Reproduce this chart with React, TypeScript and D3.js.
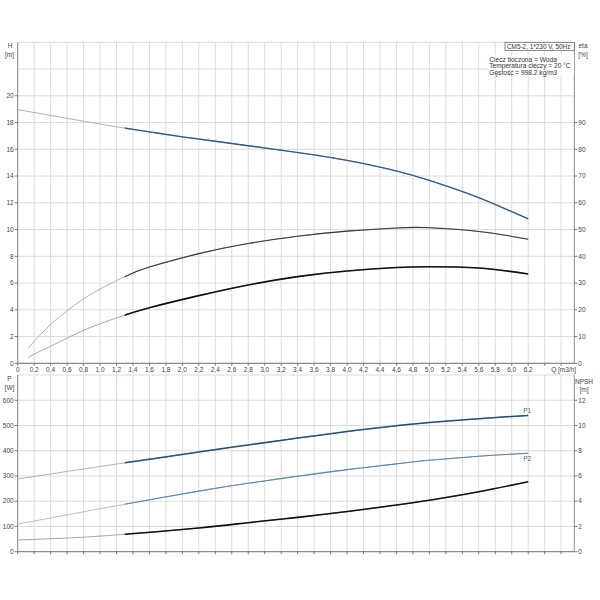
import { useEffect, useRef } from "react";
import * as d3 from "d3";

// Q [m3/h] sample points
const qH = [0, 0.4, 0.8, 1.2, 1.6, 2.0, 2.4, 2.8, 3.2, 3.6, 4.0, 4.4, 4.8, 5.2, 5.6, 6.2];
const headH = [18.97, 18.53, 18.1, 17.68, 17.3, 16.93, 16.6, 16.27, 15.93, 15.58, 15.17, 14.67, 14.05, 13.27, 12.38, 10.8];

const qEta = [0.13, 0.2, 0.4, 0.6, 0.9, 1.3, 1.6, 2.2, 2.8, 3.4, 4.0, 4.6, 5.0, 5.6, 6.2];
const etaPump = [5.6, 8.2, 14.5, 19.6, 26.0, 32.4, 36.0, 41.0, 44.8, 47.5, 49.4, 50.6, 50.7, 49.3, 46.4];
const etaTotal = [2.2, 3.4, 6.4, 9.4, 13.6, 18.0, 20.8, 25.3, 29.3, 32.4, 34.5, 35.8, 36.1, 35.6, 33.4];

const qP = [0, 0.6, 1.3, 2.2, 2.8, 3.4, 4.0, 4.6, 5.0, 5.6, 6.2];
const powerP1 = [288, 318, 352, 395, 423, 450, 476, 499, 512, 527, 540];
const powerP2 = [109, 146, 188, 240, 271, 299, 325, 348, 362, 378, 390];
const npsh = [0.93, 1.08, 1.38, 1.88, 2.3, 2.72, 3.18, 3.7, 4.08, 4.75, 5.55];

const hTicks = [0, 2, 4, 6, 8, 10, 12, 14, 16, 18, 20];
const etaTicks = [0, 10, 20, 30, 40, 50, 60, 70, 80, 90];
const pTicks = [0, 100, 200, 300, 400, 500, 600];
const npshTicks = [0, 2, 4, 6, 8, 10, 12];

const infoLines = ["Ciecz tłoczona = Woda", "Temperatura cieczy = 20 °C", "Gęstość = 998.2 kg/m3"];

export default function App() {
    const svgRef = useRef<SVGSVGElement>(null);

    useEffect(() => {
        if (!svgRef.current) return;
        const svg = d3.select(svgRef.current);
        svg.selectAll("*").remove();

        const font = "'Liberation Sans', Arial, sans-serif";
        const textColor = "#444";
        const gridColor = "#dcdcdc";
        const axisColor = "#8c8c8c";

        const x = d3.scaleLinear().domain([0, 6.76]).range([17.7, 574.3]);
        const yH = d3.scaleLinear().domain([0, 24]).range([363.3, 42.3]);
        const yEta = d3.scaleLinear().domain([0, 120]).range([363.3, 42.3]);
        const yP = d3.scaleLinear().domain([0, 700]).range([551.7, 375]);
        const yN = d3.scaleLinear().domain([0, 14]).range([551.7, 375]);

        const qGrid = d3.range(0, 34).map((i) => i * 0.2);

        const drawPanel = (yScale: d3.ScaleLinear<number, number>, gridVals: number[]) => {
            const [y0, y1] = yScale.range();
            const g = svg.append("g");
            g.selectAll("line.v")
                .data(qGrid)
                .join("line")
                .attr("x1", (d) => x(d))
                .attr("x2", (d) => x(d))
                .attr("y1", y0)
                .attr("y2", y1)
                .attr("stroke", gridColor)
                .attr("stroke-width", 1);
            g.selectAll("line.h")
                .data(gridVals)
                .join("line")
                .attr("x1", x(0))
                .attr("x2", x(6.76))
                .attr("y1", (d) => yScale(d))
                .attr("y2", (d) => yScale(d))
                .attr("stroke", gridColor)
                .attr("stroke-width", 1);
            // axes
            g.append("line").attr("x1", x(0)).attr("x2", x(0)).attr("y1", y0).attr("y2", y1).attr("stroke", axisColor);
            g.append("line").attr("x1", x(6.76)).attr("x2", x(6.76)).attr("y1", y0).attr("y2", y1).attr("stroke", axisColor);
            g.append("line").attr("x1", x(0)).attr("x2", x(6.76)).attr("y1", y0).attr("y2", y0).attr("stroke", "#777");
            // bottom ticks
            g.selectAll("line.xt")
                .data(qGrid)
                .join("line")
                .attr("x1", (d) => x(d))
                .attr("x2", (d) => x(d))
                .attr("y1", y0)
                .attr("y2", y0 + 2.5)
                .attr("stroke", "#777");
        };

        drawPanel(yH, d3.range(0, 25, 2));
        drawPanel(yP, d3.range(0, 701, 100));

        const leftTicks = (yScale: d3.ScaleLinear<number, number>, vals: number[]) => {
            const g = svg.append("g").attr("font-family", font).attr("font-size", 6.5).attr("fill", textColor);
            vals.forEach((v) => {
                g.append("line").attr("x1", x(0) - 3).attr("x2", x(0)).attr("y1", yScale(v)).attr("y2", yScale(v)).attr("stroke", "#777");
                g.append("text").attr("x", x(0) - 4).attr("y", yScale(v)).attr("dy", "0.35em").attr("text-anchor", "end").text(v);
            });
        };
        const rightTicks = (yScale: d3.ScaleLinear<number, number>, vals: number[]) => {
            const g = svg.append("g").attr("font-family", font).attr("font-size", 6.5).attr("fill", textColor);
            vals.forEach((v) => {
                g.append("line").attr("x1", x(6.76)).attr("x2", x(6.76) + 3).attr("y1", yScale(v)).attr("y2", yScale(v)).attr("stroke", "#777");
                g.append("text").attr("x", x(6.76) + 4).attr("y", yScale(v)).attr("dy", "0.35em").text(v);
            });
        };
        leftTicks(yH, hTicks);
        rightTicks(yEta, etaTicks);
        leftTicks(yP, pTicks);
        rightTicks(yN, npshTicks);

        // x tick labels
        const xl = svg.append("g").attr("font-family", font).attr("font-size", 6.5).attr("fill", textColor).attr("text-anchor", "middle");
        qGrid.slice(0, 32).forEach((q, i) => {
            xl.append("text")
                .attr("x", x(q))
                .attr("y", 372)
                .text(i === 0 ? "0" : q.toFixed(1).replace(".", ","));
        });
        xl.append("text").attr("x", x(6.63)).attr("y", 372).text("Q [m3/h]");

        // axis titles
        const titles = svg.append("g").attr("font-family", font).attr("font-size", 6.5).attr("fill", textColor).attr("text-anchor", "middle");
        titles.append("text").attr("x", 10).attr("y", 47.5).text("H");
        titles.append("text").attr("x", 9.5).attr("y", 56.5).text("[m]");
        titles.append("text").attr("x", 583).attr("y", 47.5).text("eta");
        titles.append("text").attr("x", 583).attr("y", 56.5).text("[%]");
        titles.append("text").attr("x", 9.5).attr("y", 380.5).text("P");
        titles.append("text").attr("x", 9.5).attr("y", 389.5).text("[W]");
        titles.append("text").attr("x", 584).attr("y", 383.5).text("NPSH");
        titles.append("text").attr("x", 584).attr("y", 391.5).text("[m]");

        // clip for the thick (operating range) part of curves
        const defs = svg.append("defs");
        defs.append("clipPath")
            .attr("id", "opRange")
            .append("rect")
            .attr("x", x(1.3))
            .attr("y", 0)
            .attr("width", x(6.76) - x(1.3))
            .attr("height", 600);

        const drawCurve = (
            qs: number[],
            vs: number[],
            yScale: d3.ScaleLinear<number, number>,
            thin: string,
            thick: string,
            thickWidth: number
        ) => {
            const pts: [number, number][] = qs.map((q, i) => [x(q), yScale(vs[i])]);
            const line = d3.line().curve(d3.curveNatural);
            const path = line(pts) ?? "";
            svg.append("path").attr("d", path).attr("fill", "none").attr("stroke", thin).attr("stroke-width", 0.9);
            svg.append("path")
                .attr("d", path)
                .attr("fill", "none")
                .attr("stroke", thick)
                .attr("stroke-width", thickWidth)
                .attr("clip-path", "url(#opRange)");
        };

        drawCurve(qH, headH, yH, "#9aaec4", "#2d5b8d", 1.4);
        drawCurve(qEta, etaPump, yEta, "#a8a8a8", "#3a3a3a", 1.1);
        drawCurve(qEta, etaTotal, yEta, "#9c9c9c", "#111", 1.6);
        drawCurve(qP, powerP1, yP, "#9aaec4", "#24507f", 1.5);
        drawCurve(qP, powerP2, yP, "#a6b8cc", "#5a86b3", 1.1);
        drawCurve(qP, npsh, yN, "#9c9c9c", "#111", 1.6);

        // curve labels
        svg.append("text")
            .attr("x", x(6.2) - 1)
            .attr("y", yP(540) - 2.5)
            .attr("font-family", font)
            .attr("font-size", 6.5)
            .attr("fill", "#3a6796")
            .attr("text-anchor", "middle")
            .text("P1");
        svg.append("text")
            .attr("x", x(6.2) - 1)
            .attr("y", yP(390) + 7.5)
            .attr("font-family", font)
            .attr("font-size", 6.5)
            .attr("fill", "#3a6796")
            .attr("text-anchor", "middle")
            .text("P2");

        // info box
        svg.append("rect")
            .attr("x", 505)
            .attr("y", 42.3)
            .attr("width", x(6.76) - 505)
            .attr("height", 8)
            .attr("fill", "#fff")
            .attr("stroke", "#555")
            .attr("stroke-width", 0.7);
        svg.append("text")
            .attr("x", 507)
            .attr("y", 48.6)
            .attr("font-family", font)
            .attr("font-size", 6.4)
            .attr("fill", "#333")
            .text("CM5-2, 1*230 V, 50Hz");
        svg.append("rect").attr("x", 488).attr("y", 55).attr("width", 86).attr("height", 20).attr("fill", "#fff");
        infoLines.forEach((t, i) => {
            svg.append("text")
                .attr("x", 489.3)
                .attr("y", 61.5 + i * 6.5)
                .attr("font-family", font)
                .attr("font-size", 6.6)
                .attr("fill", "#333")
                .text(t);
        });
    }, []);

    return (
        <svg
            ref={svgRef}
            width={600}
            height={600}
            style={{ position: "absolute", left: 0, top: 0, background: "#fff" }}
        />
    );
}
